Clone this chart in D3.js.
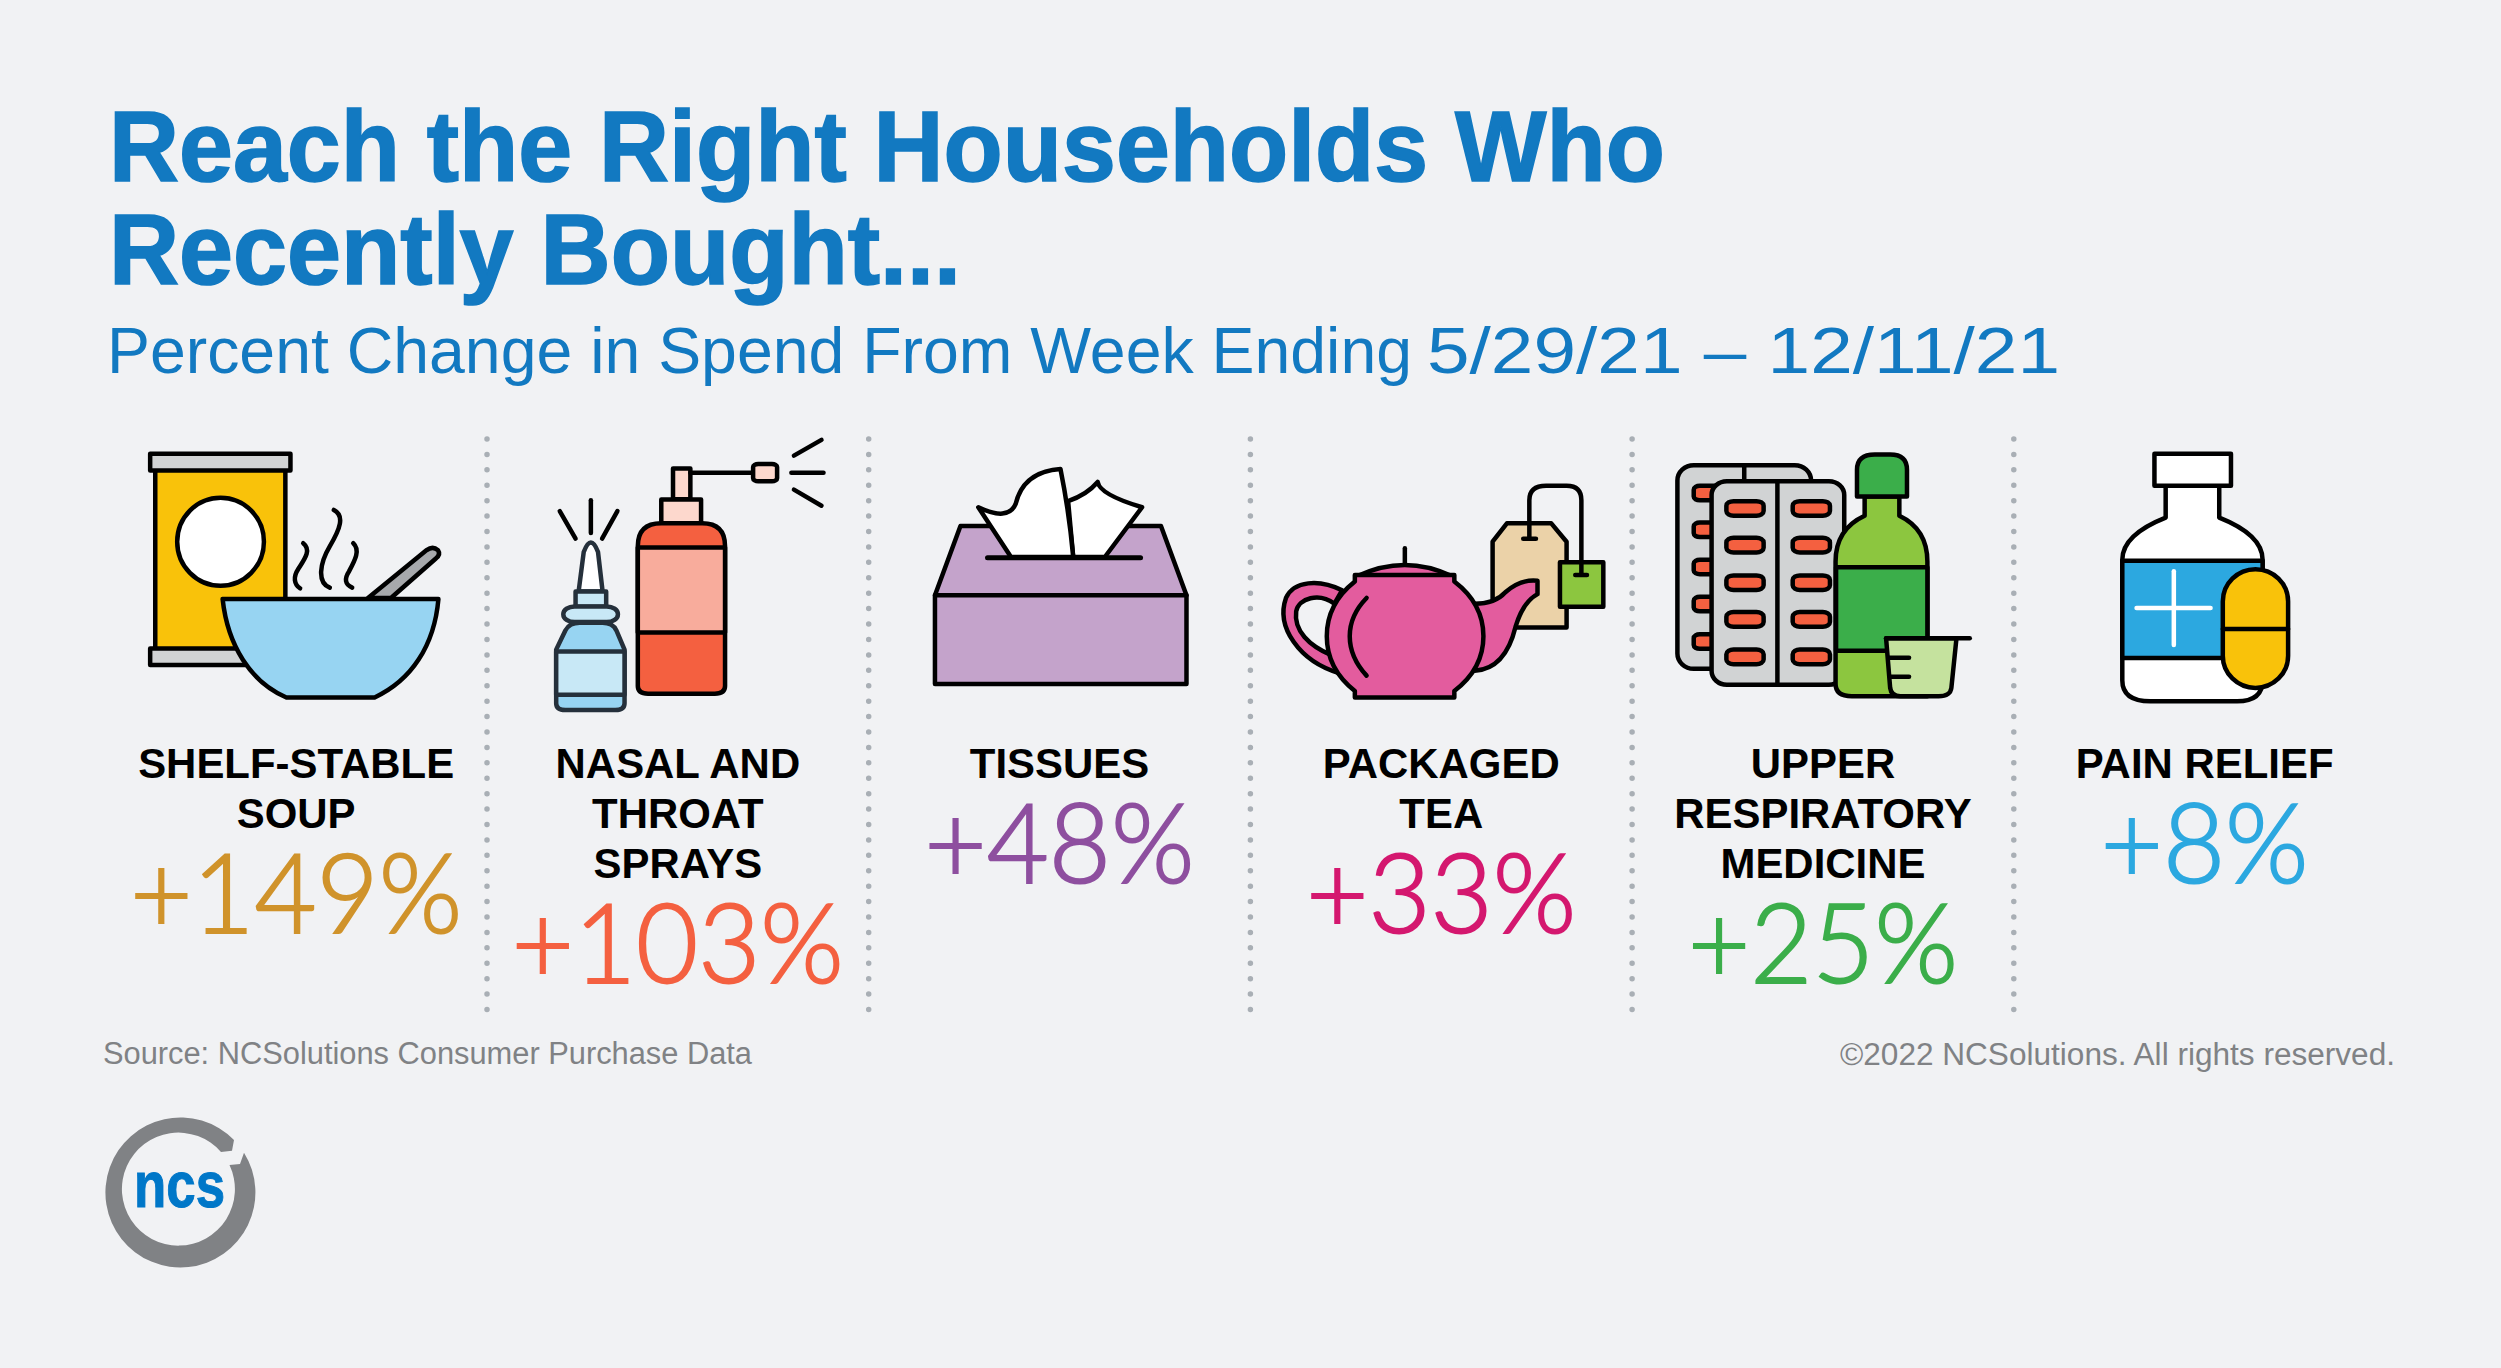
<!DOCTYPE html>
<html>
<head>
<meta charset="utf-8">
<script src="https://cdn.jsdelivr.net/npm/d3@7"></script>
<style>
  html, body { margin: 0; padding: 0; background: #f1f2f4; }
  svg { display: block; }
  .icon * { stroke: #000; stroke-width: 4.5; stroke-linejoin: round; stroke-linecap: round; vector-effect: non-scaling-stroke; }
</style>
</head>
<body>
<script>
// chart data
const categories = ['soup', 'sprays', 'tissues', 'tea', 'medicine', 'pain'];
const labelLines = [
  ['SHELF-STABLE', 'SOUP'],
  ['NASAL AND', 'THROAT', 'SPRAYS'],
  ['TISSUES'],
  ['PACKAGED', 'TEA'],
  ['UPPER', 'RESPIRATORY', 'MEDICINE'],
  ['PAIN RELIEF']
];
const pctChange = [149, 103, 48, 33, 25, 8];
const pctColors = ['#d0932b', '#f46040', '#8e4f9f', '#d4186f', '#3bae4a', '#2ca8e0'];
const titleLines = ['Reach the Right Households Who', 'Recently Bought...'];
const subtitleParts = ['Percent Change in Spend From Week Ending', '5/29/21 \u2013 12/11/21'];
const sourceNote = 'Source: NCSolutions Consumer Purchase Data';
const copyNote = '\u00a92022 NCSolutions. All rights reserved.';

const width = 2501, height = 1368;
const blue = '#1279c1', gray = '#808285';

const svg = d3.select('body').append('svg')
  .attr('width', width)
  .attr('height', height);

svg.append('rect').attr('width', width).attr('height', height).attr('fill', '#f1f2f4');

// one column per category
const x = d3.scaleBand()
  .domain(categories)
  .range([105.3, 2395.5]);

// plain text helper, squeezes to a width when one is given
function addText(parent, str, px, py, size, opts) {
  const t = parent.append('text')
    .attr('x', px)
    .attr('y', py)
    .attr('font-family', opts.font || '"Liberation Sans"')
    .attr('font-size', size)
    .attr('font-weight', opts.weight || 400)
    .attr('fill', opts.fill || '#000')
    .attr('text-anchor', opts.anchor || 'start')
    .text(str);
  if (opts.len) t.attr('textLength', opts.len).attr('lengthAdjust', 'spacingAndGlyphs');
  if (opts.bolder) t.attr('stroke', opts.fill).attr('stroke-width', opts.bolder);
  return t;
}

// header
addText(svg, titleLines[0], 109, 181, 100, { weight: 700, fill: blue, len: 1556, bolder: 1.6 });
addText(svg, titleLines[1], 109, 284, 100, { weight: 700, fill: blue, len: 852, bolder: 1.6 });

// subtitle, words and dates run at different widths in the original
const subText = addText(svg, '', 107, 372.5, 64, { fill: blue });
subText.append('tspan')
  .attr('x', 107)
  .attr('textLength', 1305)
  .attr('lengthAdjust', 'spacingAndGlyphs')
  .text(subtitleParts[0]);
subText.append('tspan')
  .attr('x', 1427)
  .attr('textLength', 633)
  .attr('lengthAdjust', 'spacingAndGlyphs')
  .text(subtitleParts[1]);

// footer
addText(svg, sourceNote, 103, 1064, 31, { fill: gray, len: 649 });
addText(svg, copyNote, 2395, 1064.5, 31, { fill: gray, anchor: 'end', len: 555 });

// dotted dividers between the columns
svg.selectAll('line.divider')
  .data(categories.slice(1))
  .enter()
  .append('line')
  .attr('class', 'divider')
  .attr('x1', d => x(d))
  .attr('x2', d => x(d))
  .attr('y1', 439)
  .attr('y2', 1012)
  .attr('stroke', '#a9afb5')
  .attr('stroke-width', 5.5)
  .attr('stroke-linecap', 'round')
  .attr('stroke-dasharray', '0 15.42');

// work out horizontal squeeze from the widest strings
function measure(str, size, weight, font) {
  const t = addText(svg, str, 0, -100, size, { weight: weight, font: font });
  const w = t.node().getComputedTextLength();
  t.remove();
  return w;
}
const labelSize = 43, pctSize = 110;
const pctFont = 'Lato';
const labelK = 316 / measure('SHELF-STABLE', labelSize, 700);
const pctK = 332 / measure('+149%', pctSize, 300, pctFont);

const columns = svg.selectAll('g.column')
  .data(categories)
  .enter()
  .append('g')
  .attr('class', 'column')
  .attr('transform', d => `translate(${x(d) + x.bandwidth() / 2},0)`);

columns.each(function(d, i) {
  const col = d3.select(this);
  const lines = labelLines[i];
  lines.forEach(function(line, j) {
    const w = measure(line, labelSize, 700);
    addText(col, line, 0, 778 + j * 50.2, labelSize, { weight: 700, anchor: 'middle', len: w * labelK });
  });
  const str = '+' + pctChange[i] + '%';
  const w = measure(str, pctSize, 300, pctFont);
  addText(col, str, 0, 778 + (lines.length - 1) * 50 + 105, pctSize, {
    weight: 300, font: pctFont, fill: pctColors[i], anchor: 'middle', len: w * pctK, bolder: 2
  });
});

// icons are traced in a stretched local space, scale back here
const iconOffset = [-206.2, -588, -199.6, -581.3, -193, -574.7];
const icons = svg.selectAll('g.icon')
  .data(categories)
  .enter()
  .append('g')
  .attr('class', 'icon')
  .attr('transform', (d, i) => `translate(${x(d) + x.bandwidth() / 2 + iconOffset[i]},420) scale(${1 / 1.96},${1 / 2.613})`);

function shape(g, d, fill) {
  return g.append('path').attr('d', d).attr('fill', fill || 'none');
}
function box(g, x0, y0, x1, y1, fill, rx, ry) {
  return g.append('rect').attr('x', x0).attr('y', y0)
    .attr('width', x1 - x0).attr('height', y1 - y0)
    .attr('rx', rx || 0).attr('ry', ry || 0)
    .attr('fill', fill || 'none');
}

const drawIcon = {
  soup: function(g) {
    box(g, 128, 130, 383, 600, '#f9c20a');
    box(g, 118, 88, 393, 132, '#d1d3d4');
    box(g, 118, 597, 320, 640, '#d1d3d4');
    g.append('ellipse').attr('cx', 256).attr('cy', 318).attr('rx', 85).attr('ry', 115).attr('fill', '#fff');
    shape(g, 'M418 322 C435 340 420 365 408 390 C398 410 400 430 412 440');
    shape(g, 'M478 235 C500 250 490 285 470 330 C450 375 445 425 470 438');
    shape(g, 'M516 322 C530 340 520 365 508 395 C498 415 500 430 514 438');
    shape(g, 'M545 465 L660 340 Q672 328 682 340 Q688 352 678 362 L590 465 Z', '#a7a9ac');
    shape(g, 'M260 468 L683 468 C675 590 630 680 558 725 L385 725 C315 685 270 590 260 468 Z', '#97d4f2');
  },
  sprays: function(g) {
    const small = g.append('g').attr('class', 'small');
    shape(small, 'M958 448 L968 345 Q982 295 996 345 L1005 448 Z', '#fff');
    box(small, 952, 448, 1012, 488, '#c8e8f6');
    shape(small, 'M914 600 L932 550 Q940 530 960 530 L1005 530 Q1025 530 1032 550 L1048 600 L1048 740 Q1048 758 1030 758 L932 758 Q914 758 914 740 Z', '#97d4f2');
    box(small, 914, 605, 1048, 718, '#c8e8f6');
    box(small, 928, 487, 1035, 528, '#c8e8f6', 22, 20);
    small.selectAll('*').style('stroke', '#25303b');
    shape(g, 'M982 210 L982 295');
    shape(g, 'M921 238 L952 310');
    shape(g, 'M1034 238 L1004 310');
    box(g, 1143, 127, 1177, 207, '#fdd8cd');
    shape(g, 'M1177 138 L1300 138');
    box(g, 1300, 115, 1347, 160, '#fdd8cd', 10, 8);
    box(g, 1120, 208, 1198, 270, '#fdd8cd');
    shape(g, 'M1074 330 Q1074 270 1120 270 L1200 270 Q1245 270 1245 330 L1245 695 Q1245 715 1225 715 L1094 715 Q1074 715 1074 695 Z', '#f46040');
    box(g, 1074, 333, 1245, 555, '#f8ac9c');
    shape(g, 'M1380 93 L1434 52');
    shape(g, 'M1375 138 L1438 138');
    shape(g, 'M1380 182 L1434 224');
  },
  tissues: function(g) {
    shape(g, 'M197 277 L590 277 L640 458 L147 458 Z', '#c4a3cb');
    box(g, 147, 458, 640, 690, '#c4a3cb');
    shape(g, 'M408 212 Q445 195 466 162 Q470 195 553 228 L480 358 L418 358 Z', '#fff');
    shape(g, 'M232 228 Q290 265 305 220 Q320 135 393 128 Q410 240 418 358 L296 358 Z', '#fff');
    shape(g, 'M250 360 L550 360').style('stroke-width', 5);
  },
  tea: function(g) {
    shape(g, 'M1268 270 L1355 270 L1385 318 L1385 542 L1240 542 L1240 318 Z', '#ebd2a8');
    shape(g, 'M1312 270 L1312 310 M1300 310 L1325 310');
    box(g, 1372, 372, 1457, 488, '#8cc63f');
    shape(g, 'M1312 270 L1312 210 Q1312 172 1345 172 L1385 172 Q1414 172 1414 210 L1414 405 M1402 405 L1425 405');
    shape(g, 'M945 445 C900 415 850 420 835 465 C815 540 860 630 940 662 L925 615 C880 590 850 550 855 500 C860 465 900 450 930 480 Z', '#e35c9e');
    shape(g, 'M1205 480 Q1245 480 1265 450 Q1295 415 1328 420 L1328 455 Q1300 475 1285 540 Q1265 650 1205 655 Z', '#e35c9e');
    shape(g, 'M1068 335 L1068 378');
    shape(g, 'M975 408 Q1068 350 1160 408 Z', '#e35c9e');
    shape(g, 'M970 405 L1165 405 L1165 422 Q1222 480 1222 565 Q1222 650 1165 708 L1165 725 L970 725 L970 708 Q915 650 915 565 Q915 480 970 422 Z', '#e35c9e');
    shape(g, 'M993 465 Q960 510 960 565 Q960 620 993 668');
  },
  medicine: function(g) {
    box(g, 93, 118, 355, 650, '#d1d3d4', 32, 40);
    shape(g, 'M224 118 L224 160');
    [172, 268, 365, 462, 560].forEach(function(py) {
      box(g, 125, py, 190, py + 38, '#f46040', 12, 10);
    });
    box(g, 160, 160, 420, 692, '#d1d3d4', 30, 36);
    shape(g, 'M289 160 L289 692');
    [212, 308, 406, 502, 600].forEach(function(py) {
      box(g, 189, py, 262, py + 38, '#f46040', 14, 12);
      box(g, 319, py, 392, py + 38, '#f46040', 14, 12);
    });
    shape(g, 'M460 200 L460 250 Q403 285 403 370 L403 690 Q403 722 435 722 L583 722 L583 370 Q583 285 528 250 L528 200 Z', '#8cc63f');
    box(g, 404, 385, 583, 603, '#3bae4a');
    shape(g, 'M445 200 L445 130 Q445 90 480 90 L510 90 Q543 90 543 130 L543 200 Z', '#3bae4a');
    shape(g, 'M502 570 L640 570 L630 700 Q628 722 605 722 L530 722 Q512 722 510 700 Z', '#c5e29e');
    shape(g, 'M502 570 L666 570');
    shape(g, 'M508 621 L547 621');
    shape(g, 'M512 671 L547 671');
  },
  pain: function(g) {
    shape(g, 'M1050 172 L1050 255 Q965 300 965 365 L965 680 Q965 735 1020 735 L1190 735 Q1240 735 1240 680 L1240 365 Q1240 300 1155 255 L1155 172 Z', '#fff');
    box(g, 1028, 88, 1178, 172, '#fff');
    box(g, 965, 368, 1240, 622, '#2ca8e0');
    shape(g, 'M1066 395 L1066 588').style('stroke', '#fff');
    shape(g, 'M993 491 L1138 491').style('stroke', '#fff');
    box(g, 1162, 390, 1290, 700, '#f9c20a', 64, 84);
    shape(g, 'M1162 546 L1290 546');
  }
};

icons.each(function(d) {
  drawIcon[d](d3.select(this));
});

// logo ring, notched at the top right
svg.append('path')
  .attr('d', 'M244 1152.7 A75 75 0 1 1 234 1140 L232 1150.7 L221 1152 A56.5 56.5 0 1 0 229.5 1165 L240 1164 Z')
  .attr('fill', gray);
addText(svg, 'ncs', 134, 1206.5, 64, { weight: 700, fill: '#0077c8', len: 91, bolder: 1 });
</script>
</body>
</html>
